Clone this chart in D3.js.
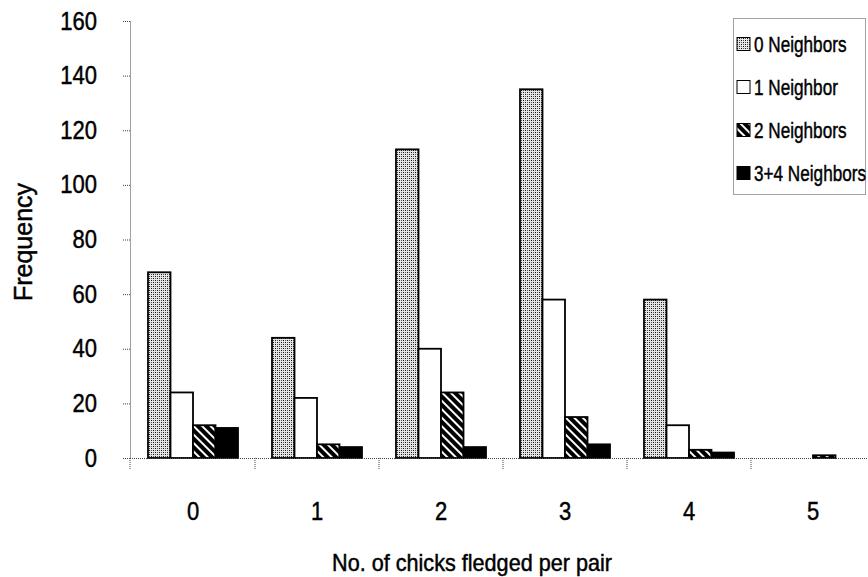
<!DOCTYPE html>
<html>
<head>
<meta charset="utf-8">
<script src="https://cdn.jsdelivr.net/npm/d3@7"></script>
<style>
  html, body { margin: 0; padding: 0; background: #fff; }
  svg { display: block; }
  text { font-family: "Liberation Sans", Arial, sans-serif; fill: #000; stroke: #000; stroke-width: 0.45px; }
</style>
</head>
<body>
<svg id="chart" width="868" height="577"></svg>
<script>
// ---- data ----
const categories = ["0", "1", "2", "3", "4", "5"];
const seriesNames = ["0 Neighbors", "1 Neighbor", "2 Neighbors", "3+4 Neighbors"];
const neighbors0 = [68, 44, 113, 135, 58, 0];
const neighbors1 = [24, 22, 40, 58, 12, 0];
const neighbors2 = [12, 5, 24, 15, 3, 1];
const neighbors34 = [11, 4, 4, 5, 2, 0];
const yTicks = [0, 20, 40, 60, 80, 100, 120, 140, 160];
const xTitle = "No. of chicks fledged per pair";
const yTitle = "Frequency";

const seriesValues = [neighbors0, neighbors1, neighbors2, neighbors34];
const fills = ["url(#dots)", "#ffffff", "url(#stripes)", "#000000"];

const svg = d3.select("#chart");
const W = 868, H = 577;
const axisX = 130, baseY = 458, topY = 21;
const FONT = '"Liberation Sans", Arial, sans-serif';

// ---- patterns ----
const defs = svg.append("defs");
const dots = defs.append("pattern").attr("id", "dots")
  .attr("patternUnits", "userSpaceOnUse").attr("width", 4).attr("height", 4);
dots.append("rect").attr("width", 4).attr("height", 4).attr("fill", "#e6e6e6");
[[0,0],[2,2]].forEach(p => dots.append("rect").attr("x", p[0]).attr("y", p[1])
  .attr("width", 1).attr("height", 1).attr("fill", "#111"));
[[0,2],[2,0]].forEach(p => dots.append("rect").attr("x", p[0]).attr("y", p[1])
  .attr("width", 1).attr("height", 1).attr("fill", "#555"));

const stripes = defs.append("pattern").attr("id", "stripes")
  .attr("patternUnits", "userSpaceOnUse").attr("width", 6).attr("height", 6)
  .attr("patternTransform", "rotate(-45)");
stripes.append("rect").attr("width", 6).attr("height", 6).attr("fill", "#000");
stripes.append("rect").attr("x", 0).attr("width", 2).attr("height", 6).attr("fill", "#fff");

// ---- scales ----
const x0 = d3.scaleBand().domain(categories).range([axisX + 1, axisX + 1 + 124 * categories.length]);
const x1 = d3.scaleBand().domain(seriesNames).range([17, 17 + 90]);
const y = d3.scaleLinear().domain([0, 160]).range([baseY, topY]);

// ---- bars ----
const groups = svg.append("g").selectAll("g")
  .data(categories).join("g")
  .attr("transform", c => `translate(${x0(c)},0)`);

groups.selectAll("rect")
  .data((c, i) => seriesNames.map((s, j) => ({ s, j, v: seriesValues[j][i] })).filter(d => d.v > 0))
  .join("rect")
  .attr("x", d => x1(d.s))
  .attr("y", d => y(d.v))
  .attr("width", x1.bandwidth())
  .attr("height", d => y(0) - y(d.v))
  .attr("fill", d => fills[d.j])
  .attr("stroke", "#000")
  .attr("stroke-width", 1.8);

// ---- y axis ----
const ySX = 0.88;
const yAxis = svg.append("g").attr("transform", `translate(${axisX},0)`)
  .call(d3.axisLeft(y).tickValues(yTicks).tickSize(8).tickSizeOuter(0));
yAxis.select(".domain").attr("stroke", "#444").attr("stroke-dasharray", "1,1");
yAxis.selectAll(".tick line").attr("stroke", "#444").attr("stroke-dasharray", "1,1");
yAxis.selectAll("text").attr("font-size", 25).attr("fill", "#000")
  .style("font-family", FONT)
  .attr("x", -33 / ySX).attr("transform", `scale(${ySX},1)`);

// ---- x axis ----
const xSX = 0.88;
const xAxis = svg.append("g").attr("transform", `translate(0,${baseY})`)
  .call(d3.axisBottom(x0).tickSize(0));
xAxis.select(".domain").remove();
xAxis.selectAll(".tick text").attr("font-size", 25).attr("fill", "#000")
  .style("font-family", FONT).attr("y", 44).attr("transform", `scale(${xSX},1)`);
xAxis.selectAll(".tick").attr("transform", c => `translate(${x0(c) + x0.bandwidth() / 2},0)`);
xAxis.append("line").attr("x1", axisX).attr("x2", W).attr("y1", 0.5).attr("y2", 0.5)
  .attr("stroke", "#444").attr("stroke-dasharray", "1,1");
const bounds = categories.map(c => x0(c)).concat([x0(categories[categories.length - 1]) + x0.bandwidth()]);
xAxis.selectAll(".bound").data(bounds.filter(b => b < W)).join("line")
  .attr("class", "bound")
  .attr("x1", (d, i) => i === 0 ? axisX : d).attr("x2", (d, i) => i === 0 ? axisX : d)
  .attr("y1", 0).attr("y2", 11)
  .attr("stroke", "#444").attr("stroke-dasharray", "1,1");

// ---- titles ----
svg.append("text").attr("transform", `translate(472,571) scale(0.94,1)`)
  .attr("text-anchor", "middle").attr("font-size", 23).text(xTitle);
svg.append("text").attr("transform", `translate(32,242) rotate(-90)`)
  .attr("text-anchor", "middle").attr("font-size", 25).text(yTitle);

// ---- legend ----
const lg = svg.append("g");
lg.append("rect").attr("x", 733.5).attr("y", 18.5).attr("width", 132).attr("height", 176)
  .attr("fill", "#fff").attr("stroke", "#444").attr("stroke-dasharray", "1,1");
const items = lg.selectAll(".item").data(seriesNames).join("g")
  .attr("class", "item")
  .attr("transform", (d, i) => `translate(737,${44 + i * 43})`);
items.append("rect").attr("x", 0).attr("y", -6.5).attr("width", 13).attr("height", 13)
  .attr("fill", (d, i) => fills[i]).attr("stroke", "#000").attr("stroke-width", 1);
items.append("text").attr("transform", "translate(17,8) scale(0.78,1)")
  .attr("font-size", 22).text(d => d);
</script>
</body>
</html>
